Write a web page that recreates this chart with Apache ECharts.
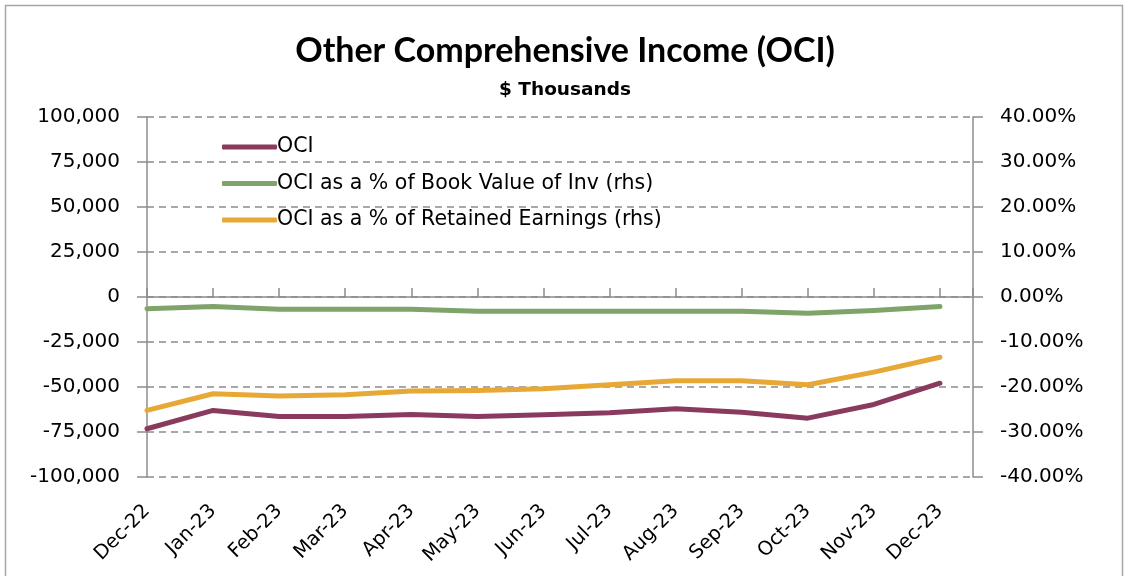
<!DOCTYPE html>
<html>
<head>
<meta charset="utf-8">
<script src="https://cdn.jsdelivr.net/npm/echarts@6/dist/echarts.min.js"></script>
<style>
  html, body { margin: 0; padding: 0; background: #fff; }
  #chart { width: 1130px; height: 576px; }
</style>
</head>
<body>
<div id="chart"></div>
<script>
// categories (months)
var months = ['Dec-22','Jan-23','Feb-23','Mar-23','Apr-23','May-23','Jun-23','Jul-23','Aug-23','Sep-23','Oct-23','Nov-23','Dec-23'];
// OCI, $ thousands (left axis)
var oci = [-73200, -63000, -66400, -66400, -65300, -66400, -65400, -64300, -62100, -64000, -67300, -59700, -47900];
// OCI as % of book value of investments (right axis, %)
var pctBook = [-2.6, -2.1, -2.7, -2.7, -2.7, -3.15, -3.15, -3.15, -3.15, -3.15, -3.6, -3.0, -2.1];
// OCI as % of retained earnings (right axis, %)
var pctRE = [-25.2, -21.5, -22.0, -21.7, -20.9, -20.8, -20.4, -19.5, -18.6, -18.6, -19.5, -16.7, -13.4];

var FONT = '"DejaVu Sans", sans-serif';
var GRAY = '#8c8c8c';

function pairs(arr){
    var out = [];
    for (var i = 0; i < arr.length; i++) { out.push([i, arr[i]]); }
    return out;
}
function fmtThousands(v){
    var s = Math.abs(v).toString().replace(/\B(?=(\d{3})+(?!\d))/g, ',');
    return (v < 0 ? '-' : '') + s;
}
function monthLabel(v){
    return (Math.round(v) === v && months[v]) ? months[v] : '';
}

var chart = echarts.init(document.getElementById('chart'));
var option = {
    animation: false,
    textStyle: { fontFamily: FONT },
    title: [
        { text: 'Other Comprehensive Income (OCI)', left: 'center', top: 29,
          textStyle: { fontFamily: 'Lato, sans-serif', fontSize: 34, fontWeight: 'bold', color: '#000' } },
        { text: '$ Thousands', left: 'center', top: 76,
          textStyle: { fontFamily: FONT, fontSize: 18.5, fontWeight: 'bold', color: '#000' } }
    ],
    graphic: [{
        type: 'rect', shape: { x: 5.5, y: 5.5, width: 1117, height: 600 },
        style: { fill: 'none', stroke: '#a6a6a6', lineWidth: 1.5 }, silent: true
    }],
    legend: {
        orient: 'vertical', left: 217, top: 131, itemGap: 14.5,
        itemWidth: 55, itemHeight: 5, icon: 'roundRect',
        textStyle: { fontFamily: FONT, fontSize: 20.5, lineHeight: 22, color: '#000', padding: [0, 0, 0, -5] },
        data: ['OCI', 'OCI as a % of Book Value of Inv (rhs)', 'OCI as a % of Retained Earnings (rhs)']
    },
    grid: { left: 147, right: 157, top: 117, bottom: 99 },
    xAxis: [
        { type: 'value', min: 0, max: 12.5, interval: 1,
          axisLine: { show: false }, axisTick: { show: false }, splitLine: { show: false },
          axisLabel: { rotate: 45, fontSize: 19.5, color: '#000', margin: 31,
                       formatter: monthLabel, showMaxLabel: false } },
        { type: 'value', min: 0, max: 12.5, interval: 1, position: 'bottom',
          axisLine: { onZero: true, lineStyle: { color: GRAY, width: 1.5 } },
          axisTick: { inside: true, length: 9, lineStyle: { color: GRAY, width: 1.5 } },
          axisLabel: { show: false }, splitLine: { show: false } }
    ],
    yAxis: [
        { type: 'value', min: -100000, max: 100000, interval: 25000, position: 'left',
          axisLine: { show: true, onZero: false, lineStyle: { color: GRAY, width: 1.5 } },
          axisTick: { show: true, length: 10, lineStyle: { color: GRAY, width: 1.5 } },
          axisLabel: { fontSize: 20, color: '#000', margin: 27, formatter: fmtThousands },
          splitLine: { show: true, lineStyle: { color: GRAY, width: 1.5, type: [7, 5] } } },
        { type: 'value', min: -40, max: 40, interval: 10, position: 'right',
          axisLine: { show: true, onZero: false, lineStyle: { color: GRAY, width: 1.5 } },
          axisTick: { show: true, length: 10, lineStyle: { color: GRAY, width: 1.5 } },
          axisLabel: { fontSize: 20, color: '#000', margin: 27,
                       formatter: function (v) { return v.toFixed(2) + '%'; } },
          splitLine: { show: false } }
    ],
    series: [
        { name: 'OCI', type: 'line', xAxisIndex: 0, yAxisIndex: 0, symbol: 'none',
          data: pairs(oci), itemStyle: { color: '#8b3a5f' },
          lineStyle: { width: 5, color: '#8b3a5f', cap: 'round', join: 'round' } },
        { name: 'OCI as a % of Book Value of Inv (rhs)', type: 'line', xAxisIndex: 0, yAxisIndex: 1, symbol: 'none',
          data: pairs(pctBook), itemStyle: { color: '#7ea46a' },
          lineStyle: { width: 5, color: '#7ea46a', cap: 'round', join: 'round' } },
        { name: 'OCI as a % of Retained Earnings (rhs)', type: 'line', xAxisIndex: 0, yAxisIndex: 1, symbol: 'none',
          data: pairs(pctRE), itemStyle: { color: '#e8a836' },
          lineStyle: { width: 5, color: '#e8a836', cap: 'round', join: 'round' } }
    ]
};
chart.setOption(option);
</script>
</body>
</html>
